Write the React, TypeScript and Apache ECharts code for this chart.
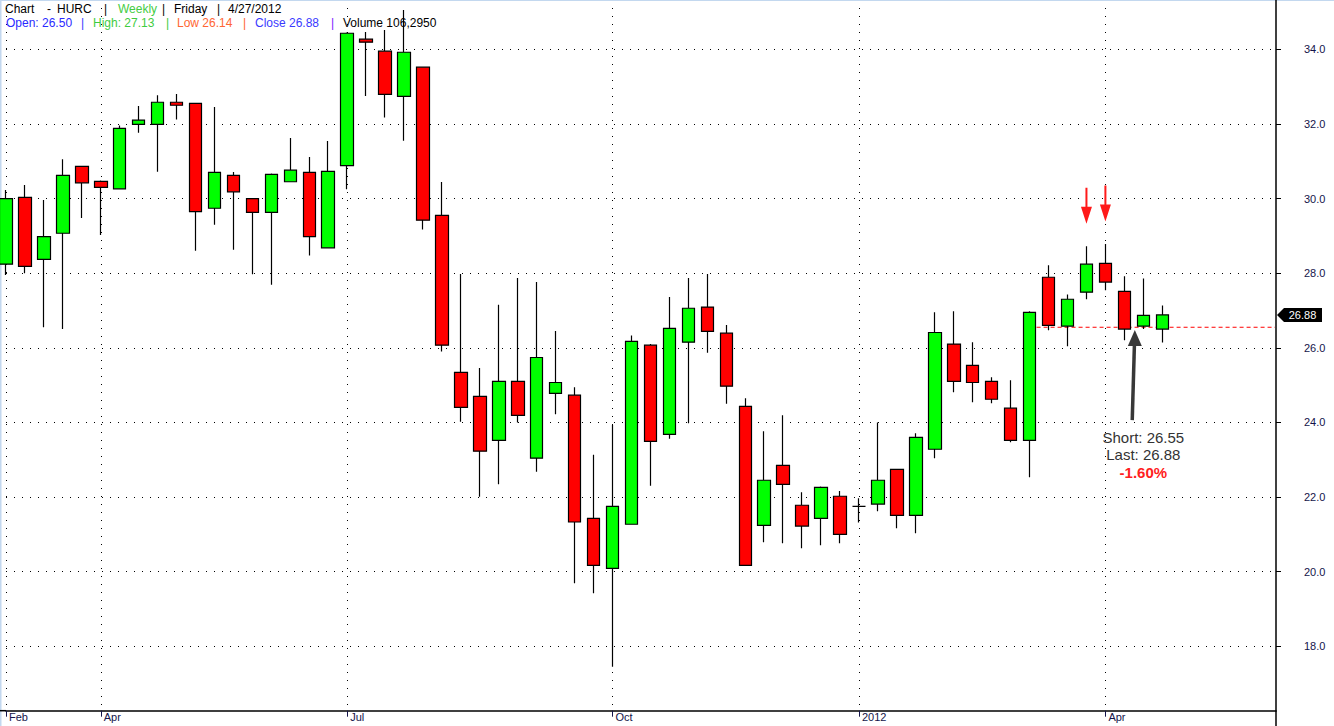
import React, { useEffect, useRef } from 'react';
import * as echarts from 'echarts';

// Weekly candles (week ending Friday)
const WEEKS = [
  '2011-02-25',
  '2011-03-04', '2011-03-11', '2011-03-18', '2011-03-25',
  '2011-04-01', '2011-04-08', '2011-04-15', '2011-04-22', '2011-04-29',
  '2011-05-06', '2011-05-13', '2011-05-20', '2011-05-27',
  '2011-06-03', '2011-06-10', '2011-06-17', '2011-06-24',
  '2011-07-01', '2011-07-08', '2011-07-15', '2011-07-22', '2011-07-29',
  '2011-08-05', '2011-08-12', '2011-08-19', '2011-08-26',
  '2011-09-02', '2011-09-09', '2011-09-16', '2011-09-23', '2011-09-30',
  '2011-10-07', '2011-10-14', '2011-10-21', '2011-10-28',
  '2011-11-04', '2011-11-11', '2011-11-18', '2011-11-25',
  '2011-12-02', '2011-12-09', '2011-12-16', '2011-12-23', '2011-12-30',
  '2012-01-06', '2012-01-13', '2012-01-20', '2012-01-27',
  '2012-02-03', '2012-02-10', '2012-02-17', '2012-02-24',
  '2012-03-02', '2012-03-09', '2012-03-16', '2012-03-23', '2012-03-30',
  '2012-04-06', '2012-04-13', '2012-04-20', '2012-04-27',
];
const TRAIL_WEEKS = ['2012-05-04', '2012-05-11', '2012-05-18', '2012-05-25', '2012-06-01', '2012-06-08'];

const OPEN = [
  28.24, 30.03, 28.37, 29.07, 30.86, 30.46, 30.26, 31.99, 31.99, 32.58,
  32.55, 29.74, 30.62, 30.0, 29.63, 30.45, 30.7, 28.68, 30.88, 34.27,
  33.95, 32.74, 33.52, 29.55, 25.34, 24.7, 23.52, 25.1, 23.04, 24.78,
  24.73, 21.43, 20.09, 21.27, 26.07, 23.68, 26.15, 27.09, 26.39, 24.43,
  21.24, 22.85, 21.78, 21.43, 22.02, 21.75, 21.81, 22.74, 21.51, 23.28,
  26.1, 25.53, 25.1, 24.38, 23.52, 27.89, 26.58, 27.49, 28.26, 27.51,
  26.58, 26.5,
];
const CLOSE = [
  30.0, 28.18, 28.98, 30.62, 30.42, 30.3, 31.88, 32.1, 32.58, 32.5,
  29.65, 30.7, 30.18, 29.63, 30.65, 30.76, 28.98, 30.73, 34.43, 34.19,
  32.79, 33.92, 29.42, 26.07, 24.4, 23.23, 25.1, 24.19, 25.74, 25.07,
  21.33, 20.17, 21.75, 26.17, 23.49, 26.52, 27.06, 26.44, 24.97, 20.17,
  22.45, 22.34, 21.22, 22.26, 21.0, 21.75, 22.45, 21.51, 23.6, 26.41,
  25.1, 25.07, 24.62, 23.52, 26.95, 26.6, 27.3, 28.24, 27.76, 26.5,
  26.87, 26.88,
];
const LOW = [
  27.95, 28.0, 26.55, 26.5, 29.48, 29.02, 30.25, 31.76, 30.72, 32.12,
  28.6, 29.3, 28.63, 27.97, 27.69, 30.45, 28.47, 28.68, 30.25, 32.75,
  32.17, 31.55, 29.17, 25.9, 24.02, 22.01, 22.34, 24.0, 22.68, 24.22,
  19.69, 19.42, 17.45, 21.27, 22.3, 23.56, 23.98, 25.87, 24.5, 20.17,
  20.79, 20.76, 20.63, 20.71, 20.76, 21.32, 21.62, 21.16, 21.03, 23.04,
  24.81, 24.54, 24.51, 23.47, 22.53, 26.47, 26.04, 27.3, 27.54, 26.2,
  26.5, 26.14,
];
const HIGH = [
  30.23, 30.36, 29.96, 31.05, 30.88, 30.48, 31.96, 32.48, 32.77, 32.8,
  32.57, 32.45, 30.71, 30.0, 30.67, 31.62, 31.11, 31.54, 34.45, 34.46,
  34.52, 35.05, 33.52, 30.44, 27.98, 25.46, 27.15, 27.87, 27.76, 26.45,
  24.94, 23.13, 23.93, 26.33, 26.1, 27.36, 27.87, 27.98, 26.61, 24.65,
  23.76, 24.19, 22.13, 22.28, 22.16, 21.97, 24.0, 22.75, 23.71, 26.95,
  26.98, 26.15, 25.21, 25.13, 26.98, 28.21, 27.43, 28.72, 28.78, 27.92,
  27.86, 27.13,
];

const TICK_WEEKS = ['2011-02-25', '2011-04-01', '2011-07-01', '2011-10-07', '2012-01-06', '2012-04-06'];
const TICK_LABELS = ['Feb', 'Apr', 'Jul', 'Oct', '2012', 'Apr'];

const Y_MIN = 16.273;
const Y_MAX = 35.321;

const SHORT_PRICE = 26.55;
const LAST_PRICE = 26.88;
const CHANGE_TEXT = '-1.60%';
const SHORT_FROM_WEEK = '2012-03-09';
const SIGNAL_WEEKS = ['2012-03-30', '2012-04-06'];
const NOTE_WEEKS = ['2012-04-13', '2012-04-20'];

const HEADER_LINE1 = [
  { text: 'Chart', x: 5, color: '#000000' },
  { text: '-', x: 47, color: '#000000' },
  { text: 'HURC', x: 57, color: '#000000' },
  { text: '|', x: 104, color: '#000000' },
  { text: 'Weekly', x: 118, color: '#44cc44' },
  { text: '|', x: 162, color: '#000000' },
  { text: 'Friday', x: 174, color: '#000000' },
  { text: '|', x: 217, color: '#000000' },
  { text: '4/27/2012', x: 228, color: '#000000' },
];
const HEADER_LINE2 = [
  { text: 'Open: 26.50', x: 6, color: '#2a2aff' },
  { text: '|', x: 81, color: '#3a3aff' },
  { text: 'High: 27.13', x: 93, color: '#3fcc3f' },
  { text: '|', x: 166, color: '#3fcc3f' },
  { text: 'Low 26.14', x: 177, color: '#ff6633' },
  { text: '|', x: 243, color: '#ff6633' },
  { text: 'Close 26.88', x: 255, color: '#3a3aff' },
  { text: '|', x: 331, color: '#7a22ff' },
  { text: 'Volume 106,2950', x: 343, color: '#000000' },
];

const W = 1334;
const H = 726;
const GRID_LEFT = 6;
const GRID_RIGHT = 58;
const GRID_TOP = 0;
const GRID_BOTTOM = 15.3;
const FONT = "'Liberation Sans', Arial, sans-serif";
const NAVY = '#14144a';

export default function App() {
  const ref = useRef<HTMLDivElement>(null);

  useEffect(() => {
    if (!ref.current) return;
    const chart = echarts.init(ref.current, null, { renderer: 'svg' });
    const categories = [...WEEKS, ...TRAIL_WEEKS];
    const candleData = WEEKS.map((_d, i) => [OPEN[i], CLOSE[i], LOW[i], HIGH[i]]);
    const isTick = (_idx: number, value: string) => TICK_WEEKS.indexOf(value) >= 0;

    const arrowPath = 'path://M4.5,0 L6.5,0 L6.5,19 L11,19 L5.5,36 L0,19 L4.5,19 Z';

    chart.setOption({
      animation: false,
      backgroundColor: '#ffffff',
      grid: { left: GRID_LEFT, right: GRID_RIGHT, top: GRID_TOP, bottom: GRID_BOTTOM, containLabel: false },
      xAxis: {
        type: 'category',
        data: categories,
        boundaryGap: false,
        axisLine: { show: true, lineStyle: { color: '#000', width: 1.5 } },
        axisTick: { show: true, interval: isTick, length: 6, lineStyle: { color: NAVY, width: 1 } },
        axisLabel: {
          show: true,
          interval: isTick,
          formatter: (v: string) => {
            const k = TICK_WEEKS.indexOf(v);
            return k >= 0 ? TICK_LABELS[k] : '';
          },
          align: 'left',
          padding: [0, 0, 0, 3],
          margin: 1,
          fontSize: 11,
          fontFamily: FONT,
          color: NAVY,
        },
        splitLine: { show: true, interval: isTick, lineStyle: { color: '#000', width: 1, type: [1, 7] } },
      },
      yAxis: {
        type: 'value',
        position: 'right',
        min: Y_MIN,
        max: Y_MAX,
        splitNumber: 10,
        scale: true,
        axisLine: { show: true, lineStyle: { color: '#000', width: 1.5 } },
        axisTick: { show: true, length: 5, lineStyle: { color: '#000', width: 1 } },
        axisLabel: {
          margin: 28,
          showMinLabel: false,
          showMaxLabel: false,
          fontSize: 11,
          fontFamily: FONT,
          color: NAVY,
          formatter: (v: number) => (Math.abs(v / 2 - Math.round(v / 2)) < 1e-6 ? v.toFixed(1) : ''),
        },
        splitLine: {
          show: true,
          showMinLine: false,
          showMaxLine: false,
          lineStyle: { color: '#000', width: 1, type: [1, 7] },
        },
      },
      series: [
        {
          type: 'candlestick',
          data: candleData,
          barWidth: 13,
          clip: false,
          itemStyle: {
            color: '#00ff00',
            color0: '#ff0000',
            borderColor: '#000000',
            borderColor0: '#000000',
            borderWidth: 1.2,
          },
          markPoint: {
            silent: true,
            symbol: arrowPath,
            symbolSize: [11, 36],
            symbolOffset: [0, -40.5],
            itemStyle: { color: '#ff1a1a' },
            label: { show: false },
            data: SIGNAL_WEEKS.map((d) => ({ coord: [d, HIGH[WEEKS.indexOf(d)]] })),
          },
        },
      ],
    });

    const toPx = (week: string, v: number) =>
      chart.convertToPixel({ gridIndex: 0 }, [categories.indexOf(week), v]) as number[];

    const xRight = W - GRID_RIGHT;
    const axisBottom = H - GRID_BOTTOM;
    const tagY = toPx(WEEKS[WEEKS.length - 1], LAST_PRICE)[1];
    const shortStart = toPx(SHORT_FROM_WEEK, SHORT_PRICE);

    const pA = toPx(NOTE_WEEKS[0], CLOSE[WEEKS.indexOf(NOTE_WEEKS[0])]);
    const pB = toPx(NOTE_WEEKS[1], CLOSE[WEEKS.indexOf(NOTE_WEEKS[1])]);
    const tipX = (pA[0] + pB[0]) / 2 + 1;
    const tipY = pA[1] + 1;
    const baseX = tipX - 2.6;
    const baseY = tipY + 90;
    const textX = pB[0];

    const headerEls: any[] = [];
    HEADER_LINE1.forEach((h) =>
      headerEls.push({
        type: 'text',
        x: h.x,
        y: 8.5,
        style: { text: h.text, fill: h.color, font: `12px ${FONT}`, textVerticalAlign: 'middle', textAlign: 'left' },
      })
    );
    HEADER_LINE2.forEach((h) =>
      headerEls.push({
        type: 'text',
        x: h.x,
        y: 22.5,
        style: { text: h.text, fill: h.color, font: `12px ${FONT}`, textVerticalAlign: 'middle', textAlign: 'left' },
      })
    );

    chart.setOption({
      graphic: [
        { type: 'rect', shape: { x: 0, y: 0, width: 1.5, height: H }, style: { fill: '#c3d8ef' }, silent: true },
        { type: 'rect', shape: { x: 0, y: 0, width: W, height: 1 }, style: { fill: '#c3d8ef' }, silent: true },
        {
          type: 'line',
          shape: { x1: 0, y1: axisBottom, x2: GRID_LEFT, y2: axisBottom },
          style: { stroke: '#000', lineWidth: 1.5 },
          silent: true,
        },
        {
          type: 'line',
          shape: { x1: xRight, y1: axisBottom, x2: xRight, y2: H },
          style: { stroke: '#000', lineWidth: 1.5 },
          silent: true,
        },
        {
          type: 'line',
          shape: { x1: shortStart[0], y1: shortStart[1], x2: xRight - 1, y2: shortStart[1] },
          style: { stroke: '#ff0000', lineWidth: 1, lineDash: [4, 3] },
          silent: true,
        },
        ...headerEls,
        {
          type: 'polygon',
          shape: {
            points: [
              [xRight + 1, tagY],
              [xRight + 8, tagY - 7],
              [xRight + 46, tagY - 7],
              [xRight + 46, tagY + 7],
              [xRight + 8, tagY + 7],
            ],
          },
          style: { fill: '#000' },
          silent: true,
        },
        {
          type: 'text',
          x: xRight + 26.5,
          y: tagY,
          style: {
            text: LAST_PRICE.toFixed(2),
            fill: '#fff',
            font: `11px ${FONT}`,
            textAlign: 'center',
            textVerticalAlign: 'middle',
          },
          silent: true,
        },
        {
          type: 'line',
          shape: { x1: baseX, y1: baseY, x2: tipX - 0.4, y2: tipY + 14 },
          style: { stroke: '#383838', lineWidth: 3.5 },
          silent: true,
        },
        {
          type: 'polygon',
          shape: {
            points: [
              [tipX, tipY],
              [tipX - 7, tipY + 16],
              [tipX + 7, tipY + 16],
            ],
          },
          style: { fill: '#383838' },
          silent: true,
        },
        {
          type: 'text',
          x: textX,
          y: baseY + 17,
          style: {
            text: `Short: ${SHORT_PRICE.toFixed(2)}`,
            fill: '#333',
            font: `15px ${FONT}`,
            textAlign: 'center',
            textVerticalAlign: 'middle',
          },
          silent: true,
        },
        {
          type: 'text',
          x: textX,
          y: baseY + 34.5,
          style: {
            text: `Last: ${LAST_PRICE.toFixed(2)}`,
            fill: '#333',
            font: `15px ${FONT}`,
            textAlign: 'center',
            textVerticalAlign: 'middle',
          },
          silent: true,
        },
        {
          type: 'text',
          x: textX,
          y: baseY + 52,
          style: {
            text: CHANGE_TEXT,
            fill: '#ff2020',
            font: `bold 15px ${FONT}`,
            textAlign: 'center',
            textVerticalAlign: 'middle',
          },
          silent: true,
        },
      ],
    });

    return () => chart.dispose();
  }, []);

  return (
    <div
      ref={ref}
      style={{ position: 'fixed', left: 0, top: 0, width: W, height: H, background: '#fff' }}
    />
  );
}
